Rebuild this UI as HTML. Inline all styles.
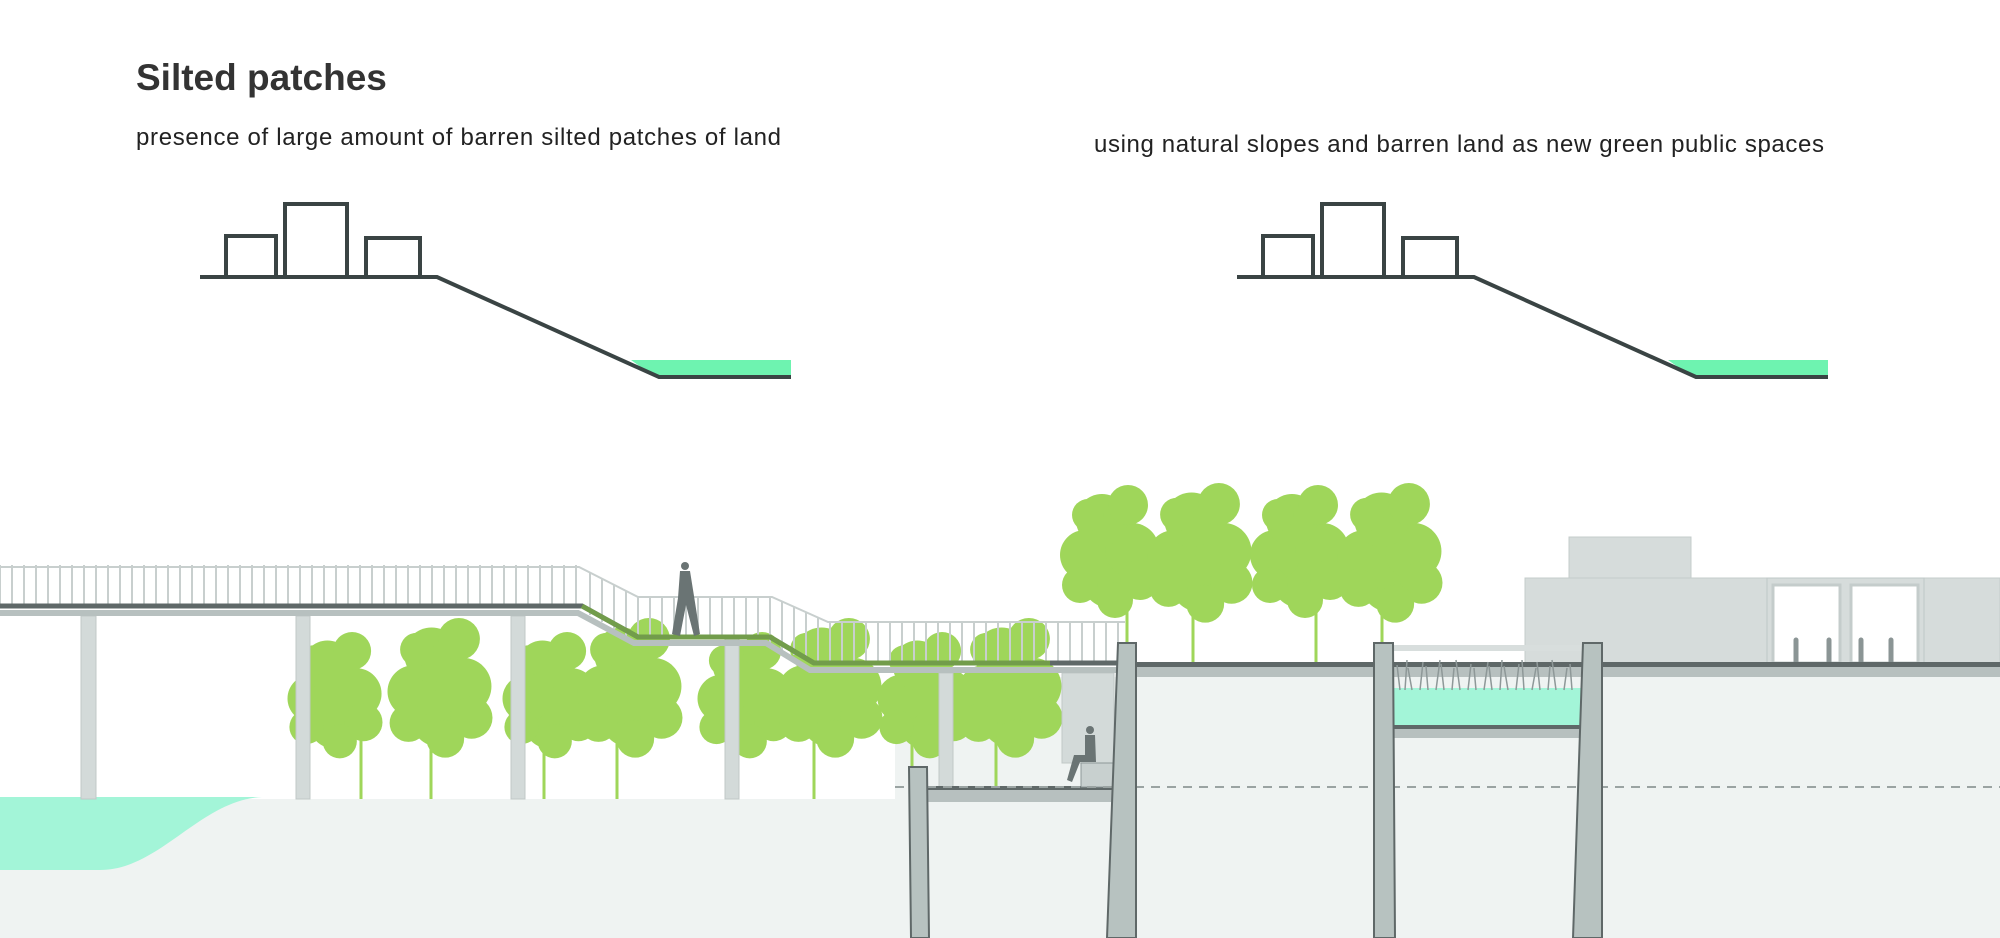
<!DOCTYPE html>
<html><head><meta charset="utf-8"><style>
html,body{margin:0;padding:0;background:#fff;}
svg{display:block}
</style></head><body>
<svg width="2000" height="938" viewBox="0 0 2000 938" xmlns="http://www.w3.org/2000/svg" font-family="Liberation Sans, sans-serif">
<defs>
<g id="dia">
  <path d="M631 360 L791 360 L791 375 L652 375 Z" fill="#6ef3b0"/>
  <g fill="none" stroke="#3a4444" stroke-width="4">
    <path d="M200 277 L437 277 L659 377 L791 377"/>
    <rect x="226" y="236" width="50" height="41"/>
    <rect x="285" y="204" width="62" height="73"/>
    <rect x="366" y="238" width="54" height="39"/>
  </g>
</g>
<g id="tree">
  <g fill="#9fd65a">
    <circle cx="0" cy="-45" r="28"/><circle cx="-25" cy="-70" r="25"/><circle cx="22" cy="-75" r="27"/>
    <circle cx="-8" cy="-105" r="26"/><circle cx="18" cy="-120" r="20"/><circle cx="-30" cy="-40" r="18"/>
    <circle cx="30" cy="-45" r="20"/><circle cx="-22" cy="-110" r="16"/><circle cx="5" cy="-25" r="18"/>
  </g>
</g>
</defs>

<text x="136" y="90" font-size="37" font-weight="bold" fill="#333">Silted patches</text>
<text x="136" y="145" font-size="24" fill="#222" textLength="645">presence of large amount of barren silted patches of land</text>
<text x="1094" y="152" font-size="24" fill="#222" textLength="730">using natural slopes and barren land as new green public spaces</text>

<use href="#dia"/>
<use href="#dia" transform="translate(1037,0)"/>

<!-- ground -->
<rect x="0" y="799" width="900" height="139" fill="#eff3f2"/>
<rect x="895" y="677" width="1105" height="261" fill="#eff3f2"/>
<path d="M0 797 L262 797 C200 800 160 870 100 870 L0 870 Z" fill="#a3f5d8"/>

<!-- building -->
<rect x="1525" y="578" width="475" height="85" fill="#d6dcdb" stroke="#c4cccb"/>
<rect x="1569" y="537" width="122" height="41" fill="#d6dcdb" stroke="#c4cccb"/>
<rect x="1767" y="578" width="157" height="85" fill="#d6dcdb" stroke="#bfc8c7"/>
<rect x="1773" y="585" width="67" height="78" fill="#fff" stroke="#c4cccb" stroke-width="3"/>
<rect x="1851" y="585" width="67" height="78" fill="#fff" stroke="#c4cccb" stroke-width="3"/>
<g stroke="#8b9595" stroke-width="5" stroke-linecap="round">
<line x1="1796" y1="640" x2="1796" y2="663"/><line x1="1829" y1="640" x2="1829" y2="663"/>
<line x1="1861" y1="640" x2="1861" y2="663"/><line x1="1891" y1="640" x2="1891" y2="663"/>
</g>

<!-- tall trees -->
<g transform="translate(1110,625)"><use href="#tree"/></g>
<g transform="translate(1200,630) scale(1.05)"><use href="#tree"/></g>
<g transform="translate(1300,625)"><use href="#tree"/></g>
<g transform="translate(1390,630) scale(1.05)"><use href="#tree"/></g>
<g stroke="#9fd65a" stroke-width="3">
<line x1="1127" y1="600" x2="1127" y2="663"/><line x1="1193" y1="600" x2="1193" y2="663"/>
<line x1="1316" y1="600" x2="1316" y2="663"/><line x1="1382" y1="600" x2="1382" y2="663"/>
</g>

<!-- lower trees -->
<g transform="translate(335,765) scale(0.95)"><use href="#tree"/></g>
<g transform="translate(440,765) scale(1.05)"><use href="#tree"/></g>
<g transform="translate(550,765) scale(0.95)"><use href="#tree"/></g>
<g transform="translate(630,765) scale(1.05)"><use href="#tree"/></g>
<g transform="translate(745,765) scale(0.95)"><use href="#tree"/></g>
<g transform="translate(830,765) scale(1.05)"><use href="#tree"/></g>
<g transform="translate(925,765) scale(0.95)"><use href="#tree"/></g>
<g transform="translate(1010,765) scale(1.05)"><use href="#tree"/></g>
<g stroke="#9fd65a" stroke-width="3">
<line x1="361" y1="740" x2="361" y2="799"/><line x1="431" y1="740" x2="431" y2="799"/>
<line x1="544" y1="740" x2="544" y2="799"/><line x1="617" y1="740" x2="617" y2="799"/>
<line x1="814" y1="740" x2="814" y2="799"/><line x1="912" y1="740" x2="912" y2="787"/>
<line x1="996" y1="740" x2="996" y2="787"/>
</g>

<!-- columns -->
<g fill="#d3dad9" stroke="#c0c8c7">
<rect x="81" y="616" width="15" height="183"/>
<rect x="296" y="616" width="14" height="183"/>
<rect x="511" y="616" width="14" height="183"/>
<rect x="725" y="637" width="14" height="162"/>
<rect x="939" y="673" width="14" height="114"/>
<rect x="1062" y="673" width="52" height="90"/>
</g>

<!-- railings -->
<g stroke="#c8cfce" stroke-width="2" fill="none">
<path d="M0 567 L579 567 L638 597 L772 597 L828 622 L1125 622"/>
<path d="M0 565 V606 M12 565 V606 M24 565 V606 M36 565 V606 M48 565 V606 M60 565 V606 M72 565 V606 M84 565 V606 M96 565 V606 M108 565 V606 M120 565 V606 M132 565 V606 M144 565 V606 M156 565 V606 M168 565 V606 M180 565 V606 M192 565 V606 M204 565 V606 M216 565 V606 M228 565 V606 M240 565 V606 M252 565 V606 M264 565 V606 M276 565 V606 M288 565 V606 M300 565 V606 M312 565 V606 M324 565 V606 M336 565 V606 M348 565 V606 M360 565 V606 M372 565 V606 M384 565 V606 M396 565 V606 M408 565 V606 M420 565 V606 M432 565 V606 M444 565 V606 M456 565 V606 M468 565 V606 M480 565 V606 M492 565 V606 M504 565 V606 M516 565 V606 M528 565 V606 M540 565 V606 M552 565 V606 M564 565 V606 M576 565 V606"/>
<path d="M590 573 V615 M602 579 V622 M614 585 V630 M626 591 V637 M638 597 V637 M650 597 V637 M662 597 V637 M674 597 V637 M686 597 V637 M698 597 V637 M710 597 V637 M722 597 V637 M734 597 V637 M746 597 V637 M758 597 V637 M770 597 V645 M782 602 V650 M794 607 V655 M806 612 V660 M818 617 V663"/>
<path d="M830 622 V663 M842 622 V663 M854 622 V663 M866 622 V663 M878 622 V663 M890 622 V663 M902 622 V663 M914 622 V663 M926 622 V663 M938 622 V663 M950 622 V663 M962 622 V663 M974 622 V663 M986 622 V663 M998 622 V663 M1010 622 V663 M1022 622 V663 M1034 622 V663 M1046 622 V663 M1058 622 V663 M1070 622 V663 M1082 622 V663 M1094 622 V663 M1106 622 V663 M1118 622 V663"/>
</g>

<!-- decks -->
<path d="M0 606 L582 606 L638 637 L770 637 L814 663 L1130 663" fill="none" stroke="#5f6868" stroke-width="5"/>
<path d="M0 613 L578 613 L634 643 L766 643 L810 670 L1130 670" fill="none" stroke="#b7c0bf" stroke-width="6"/>
<path d="M582 606 L638 637 L770 637 L814 663 L1050 663" fill="none" stroke="#7bb23e" stroke-width="5" opacity="0.7"/>
<rect x="1136" y="662" width="864" height="5" fill="#5f6868"/>
<rect x="1136" y="667" width="864" height="10" fill="#b7c0bf"/>

<!-- planter -->
<rect x="1393" y="645" width="190" height="6" fill="#d8dedd"/>
<rect x="1393" y="688" width="190" height="37" fill="#a3f5d8"/>
<g stroke="#8e9898" stroke-width="1.5">
<path d="M1400 690 l-3 -25 M1405 690 l2 -30 M1412 690 l-4 -22 M1420 690 l3 -28 M1428 690 l-2 -24 M1436 690 l4 -30 M1444 690 l-3 -26 M1452 690 l2 -22 M1460 690 l-4 -30 M1468 690 l3 -26 M1476 690 l-2 -22 M1484 690 l4 -28 M1492 690 l-3 -24 M1500 690 l2 -30 M1508 690 l-4 -24 M1516 690 l3 -26 M1524 690 l-2 -30 M1532 690 l4 -22 M1540 690 l-3 -28 M1548 690 l2 -24 M1556 690 l-4 -30 M1564 690 l3 -22 M1572 690 l-2 -26"/>
</g>
<rect x="1393" y="725" width="190" height="4" fill="#5f6868"/>
<rect x="1393" y="729" width="190" height="9" fill="#b7c0bf"/>

<!-- lower plaza -->
<rect x="927" y="786" width="185" height="4" fill="#5f6868"/>
<rect x="927" y="790" width="185" height="12" fill="#b7c0bf"/>
<rect x="1081" y="763" width="33" height="24" fill="#c8d0cf" stroke="#8e9898"/>
<line x1="895" y1="787" x2="2000" y2="787" stroke="#9aa3a2" stroke-width="2" stroke-dasharray="9 7"/>

<!-- pillars -->
<g fill="#b7c2c0" stroke="#5f6868" stroke-width="2">
<path d="M909 767 L927 767 L929 938 L911 938 Z"/>
<path d="M1118 643 L1136 643 L1136 938 L1107 938 Z"/>
<path d="M1374 643 L1393 643 L1395 938 L1374 938 Z"/>
<path d="M1583 643 L1602 643 L1602 938 L1573 938 Z"/>
</g>

<!-- people -->
<g fill="#6a7474">
<circle cx="685" cy="566" r="4"/>
<path d="M680 571 L690 571 L694 596 L700 634 L694 636 L686 605 L680 636 L672 634 L678 598 Z"/>
<circle cx="1090" cy="730" r="4"/>
<path d="M1085 735 L1095 735 L1096 762 L1080 762 L1072 782 L1067 780 L1074 755 L1085 755 Z"/>
</g>
</svg>
</body></html>
